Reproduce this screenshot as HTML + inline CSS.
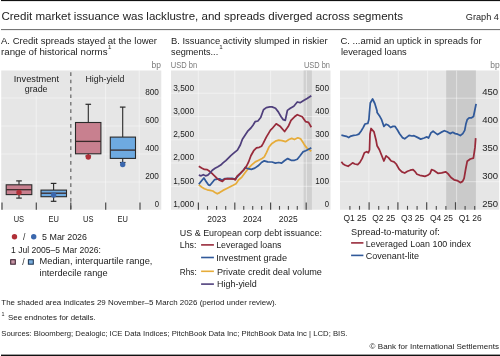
<!DOCTYPE html>
<html><head><meta charset="utf-8"><style>
html,body{margin:0;padding:0;background:#fff;width:500px;height:356px;overflow:hidden}
svg{display:block;font-family:"Liberation Sans", sans-serif;will-change:transform}
text{stroke:currentColor;stroke-width:0}
</style></head><body>
<svg width="500" height="356" viewBox="0 0 500 356">
<rect x="1.00" y="0.00" width="499.00" height="1.10" fill="#111" />
<text x="1.40" y="19.90" font-size="11.4" fill="#222222" color="#222222" text-anchor="start" textLength="401.59" lengthAdjust="spacingAndGlyphs" stroke-width="0.25" >Credit market issuance was lacklustre, and spreads diverged across segments</text>
<text x="465.80" y="20.40" font-size="9.0" fill="#222222" color="#222222" text-anchor="start" textLength="33.18" lengthAdjust="spacingAndGlyphs" stroke-width="0.15" >Graph 4</text>
<rect x="1.00" y="29.10" width="499.00" height="1.00" fill="#666" />
<text x="1.00" y="44.10" font-size="9.9" fill="#222222" color="#222222" text-anchor="start" textLength="156.02" lengthAdjust="spacingAndGlyphs" stroke-width="0.2" >A. Credit spreads stayed at the lower</text>
<text x="1.00" y="54.70" font-size="9.9" fill="#222222" color="#222222" text-anchor="start" textLength="106.50" lengthAdjust="spacingAndGlyphs" stroke-width="0.2" >range of historical norms</text>
<text x="107.90" y="49.30" font-size="6.2" fill="#222222" color="#222222" text-anchor="start" stroke-width="0.2" >1</text>
<text x="170.90" y="44.10" font-size="9.9" fill="#222222" color="#222222" text-anchor="start" textLength="156.68" lengthAdjust="spacingAndGlyphs" stroke-width="0.2" >B. Issuance activity slumped in riskier</text>
<text x="171.10" y="54.70" font-size="9.9" fill="#222222" color="#222222" text-anchor="start" textLength="47.09" lengthAdjust="spacingAndGlyphs" stroke-width="0.2" >segments...</text>
<text x="219.20" y="49.30" font-size="6.2" fill="#222222" color="#222222" text-anchor="start" stroke-width="0.2" >1</text>
<text x="340.50" y="44.10" font-size="9.9" fill="#222222" color="#222222" text-anchor="start" textLength="141.11" lengthAdjust="spacingAndGlyphs" stroke-width="0.2" >C. ...amid an uptick in spreads for</text>
<text x="340.90" y="54.70" font-size="9.9" fill="#222222" color="#222222" text-anchor="start" textLength="65.91" lengthAdjust="spacingAndGlyphs" stroke-width="0.2" >leveraged loans</text>
<text x="151.60" y="67.50" font-size="8.6" fill="#7a7a7a" color="#7a7a7a" text-anchor="start" textLength="9.42" lengthAdjust="spacingAndGlyphs" stroke-width="0.1" >bp</text>
<text x="170.80" y="67.50" font-size="8.6" fill="#7a7a7a" color="#7a7a7a" text-anchor="start" textLength="26.41" lengthAdjust="spacingAndGlyphs" stroke-width="0.1" >USD bn</text>
<text x="304.00" y="67.50" font-size="8.6" fill="#7a7a7a" color="#7a7a7a" text-anchor="start" textLength="25.91" lengthAdjust="spacingAndGlyphs" stroke-width="0.1" >USD bn</text>
<text x="490.20" y="67.50" font-size="8.6" fill="#7a7a7a" color="#7a7a7a" text-anchor="start" textLength="9.42" lengthAdjust="spacingAndGlyphs" stroke-width="0.1" >bp</text>
<rect x="1.20" y="70.50" width="160.10" height="139.20" fill="#e6e6e6" />
<rect x="171.00" y="70.50" width="159.50" height="139.20" fill="#e6e6e6" />
<rect x="340.00" y="70.50" width="159.20" height="139.20" fill="#e6e6e6" />
<line x1="1.20" y1="98.00" x2="161.30" y2="98.00" stroke="rgba(255,255,255,0.45)" stroke-width="1" />
<line x1="1.20" y1="126.00" x2="161.30" y2="126.00" stroke="rgba(255,255,255,0.45)" stroke-width="1" />
<line x1="1.20" y1="154.00" x2="161.30" y2="154.00" stroke="rgba(255,255,255,0.45)" stroke-width="1" />
<line x1="1.20" y1="182.00" x2="161.30" y2="182.00" stroke="rgba(255,255,255,0.45)" stroke-width="1" />
<line x1="36.20" y1="96.00" x2="36.20" y2="209.70" stroke="rgba(255,255,255,0.45)" stroke-width="1" />
<line x1="105.60" y1="84.00" x2="105.60" y2="209.70" stroke="rgba(255,255,255,0.45)" stroke-width="1" />
<line x1="139.20" y1="70.50" x2="139.20" y2="209.70" stroke="rgba(255,255,255,0.45)" stroke-width="1" />
<line x1="70.80" y1="72.30" x2="70.80" y2="209.70" stroke="#6e6e6e" stroke-width="1.3" stroke-dasharray="3.6,3.8"/>
<line x1="2.00" y1="202.60" x2="2.00" y2="209.70" stroke="#4a4a4a" stroke-width="1.2" />
<line x1="36.30" y1="202.60" x2="36.30" y2="209.70" stroke="#4a4a4a" stroke-width="1.2" />
<line x1="70.80" y1="202.60" x2="70.80" y2="209.70" stroke="#4a4a4a" stroke-width="1.2" />
<line x1="105.70" y1="202.60" x2="105.70" y2="209.70" stroke="#4a4a4a" stroke-width="1.2" />
<line x1="140.00" y1="202.60" x2="140.00" y2="209.70" stroke="#4a4a4a" stroke-width="1.2" />
<text x="145.15" y="95.10" font-size="9.5" fill="#222222" color="#222222" text-anchor="start" textLength="13.74" lengthAdjust="spacingAndGlyphs" stroke-width="0.06" >800</text>
<text x="145.15" y="123.10" font-size="9.5" fill="#222222" color="#222222" text-anchor="start" textLength="13.74" lengthAdjust="spacingAndGlyphs" stroke-width="0.06" >600</text>
<text x="145.15" y="151.10" font-size="9.5" fill="#222222" color="#222222" text-anchor="start" textLength="13.74" lengthAdjust="spacingAndGlyphs" stroke-width="0.06" >400</text>
<text x="145.15" y="179.10" font-size="9.5" fill="#222222" color="#222222" text-anchor="start" textLength="13.74" lengthAdjust="spacingAndGlyphs" stroke-width="0.06" >200</text>
<text x="154.65" y="207.10" font-size="9.5" fill="#222222" color="#222222" text-anchor="start" textLength="4.26" lengthAdjust="spacingAndGlyphs" stroke-width="0.06" >0</text>
<text x="13.80" y="81.60" font-size="9.5" fill="#222222" color="#222222" text-anchor="start" textLength="45.21" lengthAdjust="spacingAndGlyphs" stroke-width="0.15" >Investment</text>
<text x="24.80" y="91.80" font-size="9.5" fill="#222222" color="#222222" text-anchor="start" textLength="22.78" lengthAdjust="spacingAndGlyphs" stroke-width="0.15" >grade</text>
<text x="85.50" y="81.50" font-size="9.5" fill="#222222" color="#222222" text-anchor="start" textLength="39.01" lengthAdjust="spacingAndGlyphs" stroke-width="0.15" >High-yield</text>
<text x="13.70" y="221.50" font-size="9.5" fill="#222222" color="#222222" text-anchor="start" textLength="10.39" lengthAdjust="spacingAndGlyphs" stroke-width="0.06" >US</text>
<text x="48.50" y="221.50" font-size="9.5" fill="#222222" color="#222222" text-anchor="start" textLength="10.39" lengthAdjust="spacingAndGlyphs" stroke-width="0.06" >EU</text>
<text x="83.10" y="221.50" font-size="9.5" fill="#222222" color="#222222" text-anchor="start" textLength="10.39" lengthAdjust="spacingAndGlyphs" stroke-width="0.06" >US</text>
<text x="117.50" y="221.50" font-size="9.5" fill="#222222" color="#222222" text-anchor="start" textLength="10.39" lengthAdjust="spacingAndGlyphs" stroke-width="0.06" >EU</text>
<line x1="19.00" y1="180.90" x2="19.00" y2="184.80" stroke="#2a2a2a" stroke-width="1.1" />
<line x1="19.00" y1="194.60" x2="19.00" y2="198.10" stroke="#2a2a2a" stroke-width="1.1" />
<line x1="16.20" y1="180.90" x2="21.80" y2="180.90" stroke="#2a2a2a" stroke-width="1.2" />
<line x1="16.20" y1="198.10" x2="21.80" y2="198.10" stroke="#2a2a2a" stroke-width="1.2" />
<rect x="6.20" y="184.80" width="25.60" height="9.80" fill="#c8808f" stroke="#2a2a2a" stroke-width="1.1"/>
<line x1="6.20" y1="189.70" x2="31.80" y2="189.70" stroke="#3a2a2a" stroke-width="1.3" />
<circle cx="19.00" cy="192.50" r="2.7" fill="#b03038"/>
<line x1="53.60" y1="183.40" x2="53.60" y2="190.10" stroke="#2a2a2a" stroke-width="1.1" />
<line x1="53.60" y1="196.70" x2="53.60" y2="201.30" stroke="#2a2a2a" stroke-width="1.1" />
<line x1="50.80" y1="183.40" x2="56.40" y2="183.40" stroke="#2a2a2a" stroke-width="1.2" />
<line x1="50.80" y1="201.30" x2="56.40" y2="201.30" stroke="#2a2a2a" stroke-width="1.2" />
<rect x="41.00" y="190.10" width="25.50" height="6.60" fill="#6eaae1" stroke="#2a2a2a" stroke-width="1.1"/>
<line x1="41.00" y1="193.20" x2="66.50" y2="193.20" stroke="#3a2a2a" stroke-width="1.3" />
<circle cx="53.60" cy="195.00" r="2.7" fill="#3b67ad"/>
<line x1="88.30" y1="104.30" x2="88.30" y2="122.50" stroke="#2a2a2a" stroke-width="1.1" />
<line x1="88.30" y1="153.80" x2="88.30" y2="156.00" stroke="#2a2a2a" stroke-width="1.1" />
<line x1="85.50" y1="104.30" x2="91.10" y2="104.30" stroke="#2a2a2a" stroke-width="1.2" />
<line x1="85.50" y1="156.00" x2="91.10" y2="156.00" stroke="#2a2a2a" stroke-width="1.2" />
<rect x="75.50" y="122.50" width="25.40" height="31.30" fill="#c8808f" stroke="#2a2a2a" stroke-width="1.1"/>
<line x1="75.50" y1="141.40" x2="100.90" y2="141.40" stroke="#3a2a2a" stroke-width="1.3" />
<circle cx="88.30" cy="157.00" r="2.7" fill="#b03038"/>
<line x1="122.70" y1="107.10" x2="122.70" y2="137.10" stroke="#2a2a2a" stroke-width="1.1" />
<line x1="122.70" y1="158.40" x2="122.70" y2="162.50" stroke="#2a2a2a" stroke-width="1.1" />
<line x1="119.90" y1="107.10" x2="125.50" y2="107.10" stroke="#2a2a2a" stroke-width="1.2" />
<line x1="119.90" y1="162.50" x2="125.50" y2="162.50" stroke="#2a2a2a" stroke-width="1.2" />
<rect x="110.30" y="137.10" width="25.20" height="21.30" fill="#6eaae1" stroke="#2a2a2a" stroke-width="1.1"/>
<line x1="110.30" y1="150.10" x2="135.50" y2="150.10" stroke="#3a2a2a" stroke-width="1.3" />
<circle cx="122.70" cy="164.50" r="2.7" fill="#3b67ad"/>
<circle cx="14.5" cy="236.7" r="2.7" fill="#b03038"/>
<text x="23.00" y="240.00" font-size="8.9" fill="#222222" color="#222222" text-anchor="start" textLength="2.38" lengthAdjust="spacingAndGlyphs" stroke-width="0.1" >/</text>
<circle cx="33.7" cy="236.7" r="2.7" fill="#3b67ad"/>
<text x="42.10" y="240.00" font-size="8.9" fill="#222222" color="#222222" text-anchor="start" textLength="44.89" lengthAdjust="spacingAndGlyphs" stroke-width="0.1" >5 Mar 2026</text>
<text x="11.00" y="253.00" font-size="8.9" fill="#222222" color="#222222" text-anchor="start" textLength="89.98" lengthAdjust="spacingAndGlyphs" stroke-width="0.1" >1 Jul 2005–5 Mar 2026:</text>
<rect x="10.70" y="259.70" width="4.60" height="4.50" fill="#c595a5" stroke="#3a2030" stroke-width="1.05"/>
<text x="22.20" y="264.50" font-size="8.9" fill="#222222" color="#222222" text-anchor="start" textLength="2.38" lengthAdjust="spacingAndGlyphs" stroke-width="0.1" >/</text>
<rect x="28.40" y="259.70" width="4.90" height="4.50" fill="#7aaede" stroke="#1f3550" stroke-width="1.05"/>
<text x="39.60" y="264.30" font-size="8.9" fill="#222222" color="#222222" text-anchor="start" textLength="112.79" lengthAdjust="spacingAndGlyphs" stroke-width="0.1" >Median, interquartile range,</text>
<text x="39.60" y="275.50" font-size="8.9" fill="#222222" color="#222222" text-anchor="start" textLength="67.99" lengthAdjust="spacingAndGlyphs" stroke-width="0.1" >interdecile range</text>
<rect x="303.60" y="70.50" width="8.30" height="139.20" fill="#d0d0d0" />
<line x1="171.00" y1="93.20" x2="330.50" y2="93.20" stroke="rgba(255,255,255,0.45)" stroke-width="1" />
<line x1="171.00" y1="116.50" x2="330.50" y2="116.50" stroke="rgba(255,255,255,0.45)" stroke-width="1" />
<line x1="171.00" y1="139.80" x2="330.50" y2="139.80" stroke="rgba(255,255,255,0.45)" stroke-width="1" />
<line x1="171.00" y1="163.00" x2="330.50" y2="163.00" stroke="rgba(255,255,255,0.45)" stroke-width="1" />
<line x1="171.00" y1="186.30" x2="330.50" y2="186.30" stroke="rgba(255,255,255,0.45)" stroke-width="1" />
<line x1="198.30" y1="70.50" x2="198.30" y2="209.70" stroke="rgba(255,255,255,0.45)" stroke-width="1" />
<line x1="234.80" y1="70.50" x2="234.80" y2="209.70" stroke="rgba(255,255,255,0.45)" stroke-width="1" />
<line x1="270.60" y1="70.50" x2="270.60" y2="209.70" stroke="rgba(255,255,255,0.45)" stroke-width="1" />
<line x1="306.40" y1="70.50" x2="306.40" y2="209.70" stroke="rgba(255,255,255,0.45)" stroke-width="1" />
<line x1="198.40" y1="202.60" x2="198.40" y2="209.70" stroke="#4a4a4a" stroke-width="1.2" />
<line x1="207.50" y1="206.00" x2="207.50" y2="209.70" stroke="#4a4a4a" stroke-width="1.1" />
<line x1="216.60" y1="206.00" x2="216.60" y2="209.70" stroke="#4a4a4a" stroke-width="1.1" />
<line x1="225.70" y1="206.00" x2="225.70" y2="209.70" stroke="#4a4a4a" stroke-width="1.1" />
<line x1="234.80" y1="202.60" x2="234.80" y2="209.70" stroke="#4a4a4a" stroke-width="1.2" />
<line x1="243.75" y1="206.00" x2="243.75" y2="209.70" stroke="#4a4a4a" stroke-width="1.1" />
<line x1="252.70" y1="206.00" x2="252.70" y2="209.70" stroke="#4a4a4a" stroke-width="1.1" />
<line x1="261.65" y1="206.00" x2="261.65" y2="209.70" stroke="#4a4a4a" stroke-width="1.1" />
<line x1="270.60" y1="202.60" x2="270.60" y2="209.70" stroke="#4a4a4a" stroke-width="1.2" />
<line x1="279.50" y1="206.00" x2="279.50" y2="209.70" stroke="#4a4a4a" stroke-width="1.1" />
<line x1="288.40" y1="206.00" x2="288.40" y2="209.70" stroke="#4a4a4a" stroke-width="1.1" />
<line x1="297.30" y1="206.00" x2="297.30" y2="209.70" stroke="#4a4a4a" stroke-width="1.1" />
<line x1="306.20" y1="202.60" x2="306.20" y2="209.70" stroke="#4a4a4a" stroke-width="1.2" />
<text x="173.20" y="90.60" font-size="9.5" fill="#222222" color="#222222" text-anchor="start" textLength="20.88" lengthAdjust="spacingAndGlyphs" stroke-width="0.06" >3,500</text>
<text x="173.20" y="113.90" font-size="9.5" fill="#222222" color="#222222" text-anchor="start" textLength="20.88" lengthAdjust="spacingAndGlyphs" stroke-width="0.06" >3,000</text>
<text x="173.20" y="137.20" font-size="9.5" fill="#222222" color="#222222" text-anchor="start" textLength="20.88" lengthAdjust="spacingAndGlyphs" stroke-width="0.06" >2,500</text>
<text x="173.20" y="160.40" font-size="9.5" fill="#222222" color="#222222" text-anchor="start" textLength="20.88" lengthAdjust="spacingAndGlyphs" stroke-width="0.06" >2,000</text>
<text x="173.20" y="183.70" font-size="9.5" fill="#222222" color="#222222" text-anchor="start" textLength="20.88" lengthAdjust="spacingAndGlyphs" stroke-width="0.06" >1,500</text>
<text x="173.20" y="207.00" font-size="9.5" fill="#222222" color="#222222" text-anchor="start" textLength="20.88" lengthAdjust="spacingAndGlyphs" stroke-width="0.06" >1,000</text>
<text x="315.25" y="90.60" font-size="9.5" fill="#222222" color="#222222" text-anchor="start" textLength="13.74" lengthAdjust="spacingAndGlyphs" stroke-width="0.06" >500</text>
<text x="315.25" y="113.90" font-size="9.5" fill="#222222" color="#222222" text-anchor="start" textLength="13.74" lengthAdjust="spacingAndGlyphs" stroke-width="0.06" >400</text>
<text x="315.25" y="137.20" font-size="9.5" fill="#222222" color="#222222" text-anchor="start" textLength="13.74" lengthAdjust="spacingAndGlyphs" stroke-width="0.06" >300</text>
<text x="315.25" y="160.40" font-size="9.5" fill="#222222" color="#222222" text-anchor="start" textLength="13.74" lengthAdjust="spacingAndGlyphs" stroke-width="0.06" >200</text>
<text x="315.25" y="183.70" font-size="9.5" fill="#222222" color="#222222" text-anchor="start" textLength="13.74" lengthAdjust="spacingAndGlyphs" stroke-width="0.06" >100</text>
<text x="324.75" y="207.00" font-size="9.5" fill="#222222" color="#222222" text-anchor="start" textLength="4.26" lengthAdjust="spacingAndGlyphs" stroke-width="0.06" >0</text>
<text x="207.30" y="221.60" font-size="9.5" fill="#222222" color="#222222" text-anchor="start" textLength="18.80" lengthAdjust="spacingAndGlyphs" stroke-width="0.06" >2023</text>
<text x="243.00" y="221.60" font-size="9.5" fill="#222222" color="#222222" text-anchor="start" textLength="18.80" lengthAdjust="spacingAndGlyphs" stroke-width="0.06" >2024</text>
<text x="278.80" y="221.60" font-size="9.5" fill="#222222" color="#222222" text-anchor="start" textLength="18.80" lengthAdjust="spacingAndGlyphs" stroke-width="0.06" >2025</text>
<path d="M198.80,184.80 L201.60,187.00 L204.40,188.70 L207.20,189.80 L210.00,190.40 L212.90,191.00 L215.10,192.60 L217.30,193.80 L219.60,192.60 L223.00,190.40 L226.30,188.70 L229.70,187.00 L233.10,185.30 L236.00,183.70 L238.50,180.00 L241.90,177.10 L245.20,172.60 L248.60,168.10 L252.00,164.70 L255.30,161.90 L258.70,160.20 L262.10,158.50 L264.30,156.90 L266.60,152.40 L268.80,147.30 L272.00,143.40 L275.40,141.20 L278.70,140.10 L282.10,140.60 L285.50,141.70 L288.90,139.50 L291.70,138.40 L294.50,139.50 L297.80,137.80 L300.70,138.90 L302.90,142.30 L304.60,145.10 L306.80,147.90 L309.10,149.60 L311.30,151.30" fill="none" stroke="#e6ac3a" stroke-width="1.75" stroke-linejoin="round" stroke-linecap="butt"/>
<path d="M198.80,184.20 L201.60,180.80 L203.90,178.00 L206.10,181.40 L208.40,184.80 L210.00,185.30 L212.30,182.50 L214.50,179.70 L217.30,179.20 L219.60,178.80 L222.00,180.20 L225.00,178.60 L232.00,178.40 L235.00,179.20 L240.00,173.80 L244.00,169.50 L245.20,167.50 L248.00,168.70 L251.40,169.40 L254.80,168.10 L258.20,165.80 L261.50,162.50 L264.30,160.80 L267.70,161.90 L272.00,162.00 L275.40,163.10 L278.70,162.50 L281.60,163.10 L284.40,160.80 L287.70,158.60 L291.10,160.30 L294.50,160.30 L297.30,159.20 L300.10,155.80 L302.90,151.90 L305.70,150.70 L309.10,149.00 L311.30,147.90" fill="none" stroke="#30599a" stroke-width="1.75" stroke-linejoin="round" stroke-linecap="butt"/>
<path d="M198.80,166.20 L201.60,167.90 L204.40,169.40 L207.20,169.60 L209.50,171.30 L211.70,173.20 L214.50,175.80 L217.30,178.60 L219.60,180.30 L222.40,181.40 L224.70,179.20 L227.50,178.60 L230.80,178.80 L234.20,179.20 L235.40,179.90 L237.10,176.10 L240.50,173.20 L243.80,169.80 L246.40,166.40 L248.50,162.20 L250.90,155.70 L253.70,150.70 L256.50,147.90 L259.30,147.30 L261.50,146.20 L263.20,143.40 L266.30,137.10 L270.50,130.10 L272.00,128.70 L276.20,123.80 L280.40,126.60 L284.60,131.50 L288.20,126.60 L291.00,120.30 L294.50,116.80 L297.30,114.70 L302.20,116.80 L305.70,121.70 L308.50,122.40 L311.30,127.30" fill="none" stroke="#982a3a" stroke-width="1.75" stroke-linejoin="round" stroke-linecap="butt"/>
<path d="M198.80,175.20 L201.10,175.80 L203.30,174.70 L205.60,175.80 L207.80,175.20 L210.00,173.00 L212.30,170.20 L215.10,168.30 L217.90,166.80 L220.70,165.10 L223.00,162.90 L225.80,160.60 L228.60,157.80 L230.80,155.60 L234.00,152.90 L237.40,150.10 L240.30,145.00 L242.40,139.20 L245.20,135.00 L248.00,130.80 L250.90,128.00 L253.00,125.20 L255.10,121.70 L257.90,121.00 L260.70,117.50 L263.50,109.70 L266.30,107.60 L269.80,106.90 L272.00,106.90 L275.50,108.30 L278.30,111.90 L281.10,116.80 L283.20,119.60 L285.30,120.30 L287.40,110.40 L290.30,108.30 L293.80,106.20 L297.30,102.00 L300.10,102.70 L303.60,100.60 L307.10,98.50 L311.30,95.70" fill="none" stroke="#4f3f7c" stroke-width="1.75" stroke-linejoin="round" stroke-linecap="butt"/>
<text x="179.80" y="235.60" font-size="8.9" fill="#222222" color="#222222" text-anchor="start" textLength="142.09" lengthAdjust="spacingAndGlyphs" stroke-width="0.1" >US &amp; European corp debt issuance:</text>
<text x="179.80" y="248.00" font-size="8.9" fill="#222222" color="#222222" text-anchor="start" textLength="16.70" lengthAdjust="spacingAndGlyphs" stroke-width="0.1" >Lhs:</text>
<line x1="201.10" y1="244.90" x2="213.90" y2="244.90" stroke="#982a3a" stroke-width="1.6" />
<text x="216.20" y="248.10" font-size="8.9" fill="#222222" color="#222222" text-anchor="start" textLength="65.30" lengthAdjust="spacingAndGlyphs" stroke-width="0.1" >Leveraged loans</text>
<line x1="201.10" y1="257.50" x2="213.90" y2="257.50" stroke="#30599a" stroke-width="1.6" />
<text x="216.20" y="260.80" font-size="8.9" fill="#222222" color="#222222" text-anchor="start" textLength="70.82" lengthAdjust="spacingAndGlyphs" stroke-width="0.1" >Investment grade</text>
<text x="179.80" y="274.50" font-size="8.9" fill="#222222" color="#222222" text-anchor="start" textLength="17.01" lengthAdjust="spacingAndGlyphs" stroke-width="0.1" >Rhs:</text>
<line x1="201.10" y1="271.30" x2="213.90" y2="271.30" stroke="#e6ac3a" stroke-width="1.6" />
<text x="217.00" y="274.60" font-size="8.9" fill="#222222" color="#222222" text-anchor="start" textLength="104.91" lengthAdjust="spacingAndGlyphs" stroke-width="0.1" >Private credit deal volume</text>
<line x1="201.10" y1="284.10" x2="213.90" y2="284.10" stroke="#4f3f7c" stroke-width="1.6" />
<text x="217.00" y="287.30" font-size="8.9" fill="#222222" color="#222222" text-anchor="start" textLength="39.81" lengthAdjust="spacingAndGlyphs" stroke-width="0.1" >High-yield</text>
<rect x="446.20" y="70.50" width="29.70" height="139.20" fill="#cacaca" />
<line x1="340.00" y1="98.20" x2="500.00" y2="98.20" stroke="rgba(255,255,255,0.45)" stroke-width="1" />
<line x1="340.00" y1="126.00" x2="500.00" y2="126.00" stroke="rgba(255,255,255,0.45)" stroke-width="1" />
<line x1="340.00" y1="154.00" x2="500.00" y2="154.00" stroke="rgba(255,255,255,0.45)" stroke-width="1" />
<line x1="340.00" y1="181.70" x2="500.00" y2="181.70" stroke="rgba(255,255,255,0.45)" stroke-width="1" />
<line x1="368.90" y1="70.50" x2="368.90" y2="209.70" stroke="rgba(255,255,255,0.45)" stroke-width="1" />
<line x1="398.30" y1="70.50" x2="398.30" y2="209.70" stroke="rgba(255,255,255,0.45)" stroke-width="1" />
<line x1="427.60" y1="70.50" x2="427.60" y2="209.70" stroke="rgba(255,255,255,0.45)" stroke-width="1" />
<line x1="456.60" y1="70.50" x2="456.60" y2="209.70" stroke="rgba(255,255,255,0.45)" stroke-width="1" />
<line x1="349.90" y1="205.90" x2="349.90" y2="209.70" stroke="#4a4a4a" stroke-width="1.1" />
<line x1="359.50" y1="205.90" x2="359.50" y2="209.70" stroke="#4a4a4a" stroke-width="1.1" />
<line x1="369.10" y1="202.20" x2="369.10" y2="209.70" stroke="#4a4a4a" stroke-width="1.2" />
<line x1="378.70" y1="205.90" x2="378.70" y2="209.70" stroke="#4a4a4a" stroke-width="1.1" />
<line x1="388.30" y1="205.90" x2="388.30" y2="209.70" stroke="#4a4a4a" stroke-width="1.1" />
<line x1="397.90" y1="202.20" x2="397.90" y2="209.70" stroke="#4a4a4a" stroke-width="1.2" />
<line x1="407.50" y1="205.90" x2="407.50" y2="209.70" stroke="#4a4a4a" stroke-width="1.1" />
<line x1="417.10" y1="205.90" x2="417.10" y2="209.70" stroke="#4a4a4a" stroke-width="1.1" />
<line x1="426.70" y1="202.20" x2="426.70" y2="209.70" stroke="#4a4a4a" stroke-width="1.2" />
<line x1="436.30" y1="205.90" x2="436.30" y2="209.70" stroke="#4a4a4a" stroke-width="1.1" />
<line x1="445.90" y1="205.90" x2="445.90" y2="209.70" stroke="#4a4a4a" stroke-width="1.1" />
<line x1="455.50" y1="202.20" x2="455.50" y2="209.70" stroke="#4a4a4a" stroke-width="1.2" />
<line x1="465.10" y1="205.90" x2="465.10" y2="209.70" stroke="#4a4a4a" stroke-width="1.1" />
<line x1="474.70" y1="205.90" x2="474.70" y2="209.70" stroke="#4a4a4a" stroke-width="1.1" />
<text x="498.00" y="95.30" font-size="9.5" fill="#222222" color="#222222" text-anchor="end" >450</text>
<text x="498.00" y="123.10" font-size="9.5" fill="#222222" color="#222222" text-anchor="end" >400</text>
<text x="498.00" y="151.10" font-size="9.5" fill="#222222" color="#222222" text-anchor="end" >350</text>
<text x="498.00" y="178.80" font-size="9.5" fill="#222222" color="#222222" text-anchor="end" >300</text>
<text x="498.00" y="206.70" font-size="9.5" fill="#222222" color="#222222" text-anchor="end" >250</text>
<text x="343.50" y="220.80" font-size="9.5" fill="#222222" color="#222222" text-anchor="start" textLength="22.99" lengthAdjust="spacingAndGlyphs" stroke-width="0.06" >Q1 25</text>
<text x="372.30" y="220.80" font-size="9.5" fill="#222222" color="#222222" text-anchor="start" textLength="22.99" lengthAdjust="spacingAndGlyphs" stroke-width="0.06" >Q2 25</text>
<text x="401.10" y="220.80" font-size="9.5" fill="#222222" color="#222222" text-anchor="start" textLength="22.99" lengthAdjust="spacingAndGlyphs" stroke-width="0.06" >Q3 25</text>
<text x="429.90" y="220.80" font-size="9.5" fill="#222222" color="#222222" text-anchor="start" textLength="22.99" lengthAdjust="spacingAndGlyphs" stroke-width="0.06" >Q4 25</text>
<text x="458.70" y="220.80" font-size="9.5" fill="#222222" color="#222222" text-anchor="start" textLength="22.99" lengthAdjust="spacingAndGlyphs" stroke-width="0.06" >Q1 26</text>
<path d="M341.40,135.20 L344.20,135.80 L346.40,136.30 L348.70,137.50 L350.90,136.10 L353.70,135.40 L356.50,135.00 L358.80,134.10 L361.00,131.30 L363.30,127.40 L365.00,124.00 L367.80,123.40 L368.90,119.50 L369.40,113.00 L370.30,103.00 L372.60,99.00 L374.80,103.50 L377.00,110.80 L377.10,112.40 L379.40,115.70 L381.60,119.70 L383.90,126.40 L386.10,124.20 L388.40,125.30 L390.60,127.50 L392.90,126.40 L395.10,126.40 L397.30,129.80 L399.60,133.70 L402.40,137.60 L404.70,138.80 L406.90,137.10 L409.10,135.40 L412.00,136.00 L414.00,135.70 L417.40,137.40 L420.70,139.10 L424.10,138.00 L426.90,136.90 L428.60,138.00 L430.90,132.90 L433.10,131.20 L435.30,132.90 L437.60,134.60 L441.00,132.40 L444.30,130.70 L447.10,131.80 L450.10,133.60 L452.70,132.30 L455.20,133.60 L457.70,134.20 L460.30,135.50 L462.80,133.60 L464.70,130.40 L465.90,124.10 L467.20,119.70 L469.10,117.80 L471.60,117.80 L473.50,116.50 L474.80,110.20 L476.10,103.90" fill="none" stroke="#30599a" stroke-width="1.75" stroke-linejoin="round" stroke-linecap="butt"/>
<path d="M341.40,161.80 L343.10,164.00 L345.30,165.20 L348.10,166.30 L350.40,164.60 L352.60,162.90 L354.90,164.00 L357.70,164.60 L359.90,162.40 L362.20,158.40 L364.40,152.80 L366.70,151.70 L368.30,152.80 L369.50,150.00 L370.00,134.10 L371.10,128.50 L374.00,131.90 L376.20,140.80 L377.10,145.80 L379.40,149.70 L381.60,155.30 L383.90,161.00 L386.10,155.90 L388.40,157.60 L391.20,161.00 L394.00,161.80 L396.20,164.00 L399.10,169.10 L401.90,171.90 L404.70,173.00 L407.50,171.30 L410.30,170.20 L413.10,169.70 L414.80,171.30 L417.00,174.20 L419.80,175.30 L422.70,175.80 L424.90,176.40 L427.70,175.30 L430.00,173.60 L431.60,169.70 L434.00,170.50 L437.90,173.30 L441.70,172.90 L445.60,171.80 L447.90,173.60 L451.00,177.50 L454.10,179.80 L457.20,180.60 L460.30,182.60 L462.60,181.40 L464.10,178.30 L465.70,169.00 L467.20,161.30 L470.30,159.00 L473.40,158.20 L475.00,147.40 L475.70,138.10" fill="none" stroke="#982a3a" stroke-width="1.75" stroke-linejoin="round" stroke-linecap="butt"/>
<text x="351.10" y="235.00" font-size="8.9" fill="#222222" color="#222222" text-anchor="start" textLength="88.71" lengthAdjust="spacingAndGlyphs" stroke-width="0.1" >Spread-to-maturity of:</text>
<line x1="351.10" y1="242.90" x2="363.40" y2="242.90" stroke="#982a3a" stroke-width="1.6" />
<text x="365.80" y="246.50" font-size="8.9" fill="#222222" color="#222222" text-anchor="start" textLength="105.19" lengthAdjust="spacingAndGlyphs" stroke-width="0.1" >Leveraged Loan 100 index</text>
<line x1="351.10" y1="255.40" x2="363.40" y2="255.40" stroke="#30599a" stroke-width="1.6" />
<text x="365.80" y="258.90" font-size="8.9" fill="#222222" color="#222222" text-anchor="start" textLength="53.12" lengthAdjust="spacingAndGlyphs" stroke-width="0.1" >Covenant-lite</text>
<text x="1.30" y="305.40" font-size="7.9" fill="#222222" color="#222222" text-anchor="start" textLength="275.48" lengthAdjust="spacingAndGlyphs" stroke-width="0.04" >The shaded area indicates 29 November–5 March 2026 (period under review).</text>
<text x="1.40" y="316.20" font-size="5.4" fill="#222222" color="#222222" text-anchor="start" >1</text>
<text x="8.00" y="319.50" font-size="7.9" fill="#222222" color="#222222" text-anchor="start" textLength="87.79" lengthAdjust="spacingAndGlyphs" stroke-width="0.04" >See endnotes for details.</text>
<text x="1.30" y="336.30" font-size="7.9" fill="#222222" color="#222222" text-anchor="start" textLength="346.18" lengthAdjust="spacingAndGlyphs" stroke-width="0.04" >Sources: Bloomberg; Dealogic; ICE Data Indices; PitchBook Data Inc; PitchBook Data Inc | LCD; BIS.</text>
<text x="369.60" y="349.30" font-size="7.9" fill="#222222" color="#222222" text-anchor="start" textLength="129.39" lengthAdjust="spacingAndGlyphs" stroke-width="0.04" >© Bank for International Settlements</text>
<rect x="1.00" y="354.60" width="499.00" height="1.40" fill="#111" />
</svg>
</body></html>
